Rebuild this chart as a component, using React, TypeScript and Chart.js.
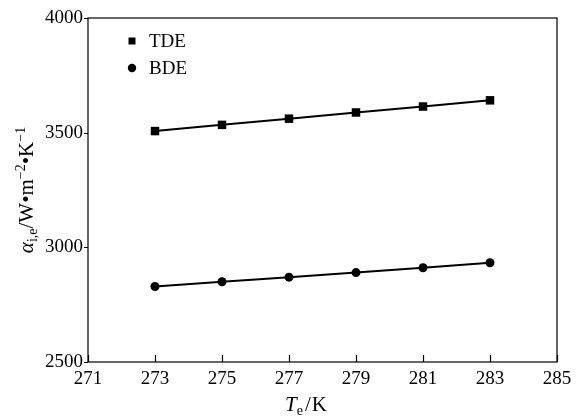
import React, { useEffect, useRef } from "react";
import { Chart, registerables } from "chart.js";

Chart.register(...registerables);

const temperatures = [273, 275, 277, 279, 281, 283];
const tdeValues = [3507, 3534, 3561, 3588, 3614, 3641];
const bdeValues = [2829, 2850, 2870, 2890, 2911, 2933];
const seriesLabels = ["TDE", "BDE"];
const xTicks = [271, 273, 275, 277, 279, 281, 283, 285];
const yTicks = [2500, 3000, 3500, 4000];

const FONT = "'Liberation Serif', 'Times New Roman', serif";

type Seg = { t: string; it?: boolean; sh?: "sub" | "sup"; gap?: number };

function segFont(s: Seg) {
  const size = s.sh ? 14 : 21;
  return `${s.it ? "italic " : ""}${size}px ${FONT}`;
}

function richWidth(ctx: CanvasRenderingContext2D, segs: Seg[]) {
  let w = 0;
  for (const s of segs) {
    ctx.font = segFont(s);
    w += ctx.measureText(s.t).width + (s.gap || 0);
  }
  return w;
}

function drawRich(ctx: CanvasRenderingContext2D, segs: Seg[], x: number, y: number) {
  let cx = x;
  ctx.textBaseline = "alphabetic";
  ctx.textAlign = "left";
  for (const s of segs) {
    ctx.font = segFont(s);
    const dy = s.sh === "sub" ? 4 : s.sh === "sup" ? -8 : 0;
    ctx.fillText(s.t, cx, y + dy);
    cx += ctx.measureText(s.t).width + (s.gap || 0);
  }
}

const xTitle: Seg[] = [
  { t: "T", it: true },
  { t: "e", sh: "sub", gap: 2 },
  { t: "/", gap: 1 },
  { t: "K" },
];
const yTitle: Seg[] = [
  { t: "α", it: true },
  { t: "i,e", sh: "sub" },
  { t: "/W•m" },
  { t: "−2", sh: "sup" },
  { t: "•K" },
  { t: "−1", sh: "sup" },
];

const decorPlugin = {
  id: "decor",
  afterDraw(chart: any) {
    const ctx: CanvasRenderingContext2D = chart.ctx;
    const { left, right, top, bottom } = chart.chartArea;
    const xs = chart.scales.x;
    const ys = chart.scales.y;
    ctx.save();
    ctx.strokeStyle = "#000";
    ctx.fillStyle = "#000";
    ctx.lineWidth = 1.2;
    // frame
    ctx.strokeRect(left, top, right - left, bottom - top);
    // x ticks inward
    ctx.beginPath();
    for (const v of xTicks) {
      const px = Math.round(xs.getPixelForValue(v)) + 0.5;
      ctx.moveTo(px, bottom);
      ctx.lineTo(px, bottom - 7);
    }
    // y ticks outward
    for (const v of yTicks) {
      const py = Math.round(ys.getPixelForValue(v)) + 0.5;
      ctx.moveTo(left, py);
      ctx.lineTo(left - 4, py);
    }
    ctx.stroke();

    // axis titles
    drawRich(ctx, xTitle, 285, 411);
    const yw = richWidth(ctx, yTitle);
    ctx.save();
    ctx.translate(33, 190 + yw / 2);
    ctx.rotate(-Math.PI / 2);
    drawRich(ctx, yTitle, 0, 0);
    ctx.restore();

    // legend
    const legendY = [41, 68];
    chart.data.datasets.forEach((ds: any, i: number) => {
      const y = legendY[i];
      ctx.fillStyle = "#000";
      if (ds.pointStyle === "rect") {
        ctx.fillRect(128.5, y - 3.5, 7, 7);
      } else {
        ctx.beginPath();
        ctx.arc(132, y, 4.2, 0, Math.PI * 2);
        ctx.fill();
      }
      ctx.font = `19px ${FONT}`;
      ctx.textAlign = "left";
      ctx.textBaseline = "middle";
      ctx.fillText(ds.label, 149, y + 1);
    });
    ctx.restore();
  },
};

export default function App() {
  const ref = useRef<HTMLCanvasElement>(null);
  useEffect(() => {
    document.body.style.margin = "0";
    const canvas = ref.current!;
    const mk = (vals: number[]) => temperatures.map((t, i) => ({ x: t, y: vals[i] }));
    const chart = new Chart(canvas, {
      type: "scatter",
      data: {
        datasets: [
          {
            label: seriesLabels[0],
            data: mk(tdeValues),
            showLine: true,
            borderColor: "#000",
            backgroundColor: "#000",
            borderWidth: 2,
            pointStyle: "rect",
            pointRadius: 6,
            pointBorderWidth: 0,
          },
          {
            label: seriesLabels[1],
            data: mk(bdeValues),
            showLine: true,
            borderColor: "#000",
            backgroundColor: "#000",
            borderWidth: 2,
            pointStyle: "circle",
            pointRadius: 4.5,
            pointBorderWidth: 0,
          },
        ],
      },
      options: {
        animation: false,
        responsive: false,
        maintainAspectRatio: false,
        layout: { padding: { top: 18, right: 22, left: 0, bottom: 0 } },
        plugins: { legend: { display: false }, tooltip: { enabled: false } },
        scales: {
          x: {
            type: "linear",
            min: 271,
            max: 285,
            afterBuildTicks: (s: any) => {
              s.ticks = xTicks.map((v) => ({ value: v }));
            },
            afterFit: (s: any) => {
              s.height = 57;
            },
            grid: { display: false, drawTicks: false },
            border: { display: false },
            ticks: {
              color: "#000",
              font: { family: FONT, size: 19 },
              padding: 6,
              maxRotation: 0,
              autoSkip: false,
              callback: (v: any) => String(v),
            },
          },
          y: {
            type: "linear",
            min: 2500,
            max: 4000,
            afterBuildTicks: (s: any) => {
              s.ticks = yTicks.map((v) => ({ value: v }));
            },
            afterFit: (s: any) => {
              s.width = 88;
            },
            grid: { display: false, drawTicks: false },
            border: { display: false },
            ticks: {
              color: "#000",
              font: { family: FONT, size: 19 },
              padding: 5,
              autoSkip: false,
              callback: (v: any) => String(v),
            },
          },
        },
      },
      plugins: [decorPlugin],
    } as any);
    return () => chart.destroy();
  }, []);
  return (
    <div style={{ width: 579, height: 419, background: "#fff" }}>
      <canvas ref={ref} width={579} height={419} style={{ display: "block" }} />
    </div>
  );
}
